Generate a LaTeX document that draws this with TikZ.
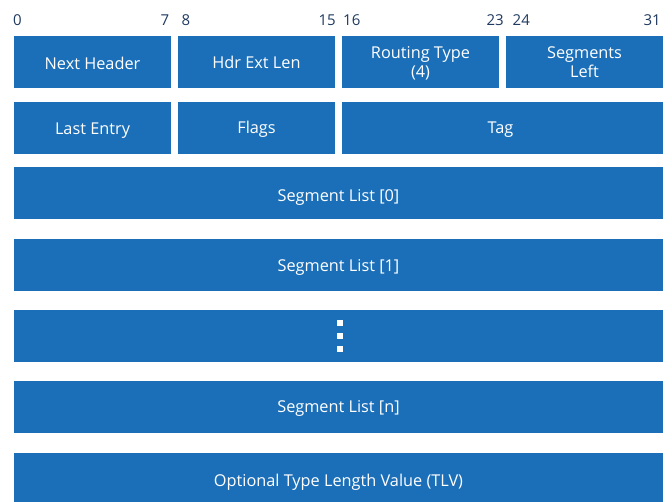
\documentclass[tikz,border=0pt]{standalone}
\usepackage{fontspec}
\setmainfont{Open Sans}
\definecolor{fieldblue}{HTML}{1B6FB8}
\definecolor{bitnum}{HTML}{1F3A60}
\begin{document}
\begin{tikzpicture}[x=1pt,y=-1pt,
  field/.style={fill=fieldblue,draw=none,text=white,font=\fontsize{16.3}{19.5}\selectfont,align=center,inner sep=0pt},
  bitlabel/.style={text=bitnum,font=\fontsize{15}{18}\selectfont,inner sep=0pt},
  dot/.style={fill=white,draw=none}]
  \useasboundingbox (0,0) rectangle (672,502);
  \fill[white] (0,0) rectangle (672,502);

  % bit position labels
  \node[bitlabel,anchor=base west] (b0)  at (13,25.7)    {0};
  \node[bitlabel,anchor=base east] (b7)  at (169.5,25.7) {7};
  \node[bitlabel,anchor=base west] (b8)  at (181.5,25.7) {8};
  \node[bitlabel,anchor=base east] (b15) at (336,25.7)   {15};
  \node[bitlabel,anchor=base west] (b16) at (343,25.7)   {16};
  \node[bitlabel,anchor=base east] (b23) at (504,25.7)   {23};
  \node[bitlabel,anchor=base west] (b24) at (512.5,25.7) {24};
  \node[bitlabel,anchor=base east] (b31) at (661,25.7)   {31};

  % first word
  \fill[fieldblue] (14,36) rectangle (171,88);
  \node[field,anchor=base] (nh) at (92.5,69.3) {Next Header};
  \fill[fieldblue] (178,36) rectangle (335,88);
  \node[field,anchor=base] (hel) at (256.5,68.3) {Hdr Ext Len};
  \fill[fieldblue] (342,36) rectangle (499,88);
  \node[field,anchor=base] (rt) at (420.5,58.3) {Routing Type};
  \node[field,anchor=base] (rt2) at (420.5,77.3) {(4)};
  \fill[fieldblue] (506,36) rectangle (663,88);
  \node[field,anchor=base] (sl) at (584.5,58.3) {Segments};
  \node[field,anchor=base] (sl2) at (584.5,77.3) {Left};

  % second word
  \fill[fieldblue] (14,102) rectangle (171,154);
  \node[field,anchor=base] (le) at (92.5,135) {Last Entry};
  \fill[fieldblue] (178,102) rectangle (335,154);
  \node[field,anchor=base] (fl) at (256.5,133.3) {Flags};
  \fill[fieldblue] (342,102) rectangle (663,154);
  \node[field,anchor=base] (tag) at (500.5,133.3) {Tag};

  % segment list and TLV
  \fill[fieldblue] (14,167) rectangle (663,219);
  \node[field,anchor=base] (s0) at (338.5,201.5) {Segment List [0]};
  \fill[fieldblue] (14,239) rectangle (663,291);
  \node[field,anchor=base] (s1) at (338.5,272) {Segment List [1]};
  \fill[fieldblue] (14,310) rectangle (663,362);
  \fill[dot] (337,320) rectangle (343,326);
  \fill[dot] (337,333) rectangle (343,339);
  \fill[dot] (337,346) rectangle (343,352);
  \fill[fieldblue] (14,381) rectangle (663,433);
  \node[field,anchor=base] (sn) at (338.5,412.3) {Segment List [n]};
  \fill[fieldblue] (14,453) rectangle (663,502);
  \node[field,anchor=base] (tlv) at (338.5,486.7) {Optional Type Length Value (TLV)};
\end{tikzpicture}
\end{document}
